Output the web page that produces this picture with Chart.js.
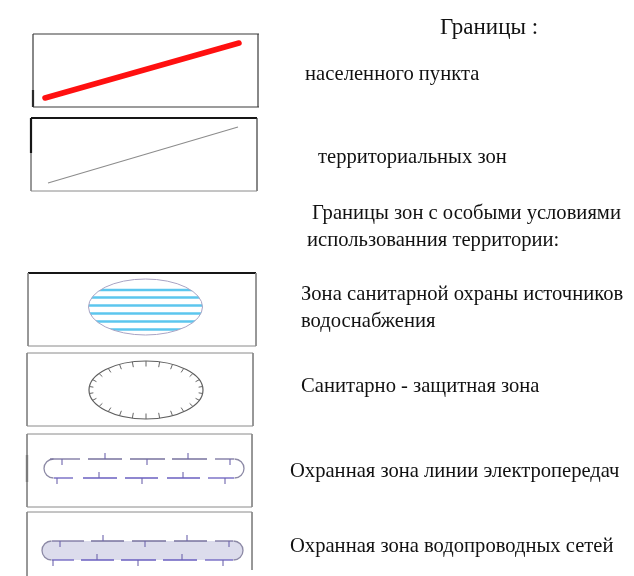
<!DOCTYPE html>
<html>
<head>
<meta charset="utf-8">
<script src="https://cdn.jsdelivr.net/npm/chart.js@4.4.1/dist/chart.umd.min.js"></script>
<style>
html,body{margin:0;padding:0;background:#fff;}
#wrap{width:634px;height:576px;}
</style>
</head>
<body>
<div id="wrap"><canvas id="c" width="634" height="576"></canvas></div>
<script>
// ---- legend content (coordinates in chart units) ----
const titleText = ['Границы :'];
const labelTexts = [
  'населенного пункта',
  'территориальных зон',
  'Границы зон с особыми условиями',
  'использованния территории:',
  'Зона санитарной охраны источников',
  'водоснабжения',
  'Санитарно - защитная зона',
  'Охранная зона линии электропередач',
  'Охранная зона водопроводных сетей'
];
const labelX = [305, 318, 312, 307, 301, 301, 301, 290, 290];
const labelY = [80, 163, 219, 246, 300, 327, 392, 477, 552];
const titleX = [440];
const titleY = [34];

// settlement boundary (red) and territorial zone boundary (grey)
const settlementLine = [[45, 98], [239, 43]];
const zoneLine = [[48, 183], [238, 127]];

// frame edges: [x1, y1, x2, y2]
const frameDark = [
  [33, 34, 259, 34], [33, 107, 259, 107], [258, 34, 258, 107], [33, 34, 33, 107],
  [257, 118, 257, 191]
];
const frameThick = [
  [33, 90, 33, 107], [31, 118, 257, 118], [31, 118, 31, 153], [28, 273, 256, 273],
  [27, 455, 27, 482]
];
const frameGrey = [
  [31, 153, 31, 191], [31, 191, 257, 191],
  [28, 273, 28, 346], [256, 273, 256, 346], [28, 346, 256, 346],
  [27, 353, 253, 353], [27, 353, 27, 426], [253, 353, 253, 426], [27, 426, 253, 426],
  [27, 434, 252, 434], [27, 434, 27, 507], [252, 434, 252, 507], [27, 507, 252, 507],
  [27, 512, 252, 512], [27, 512, 27, 576], [252, 512, 252, 570]
];

// water source sanitary zone: ellipse [cx, cy, rx, ry] + stripe rows
const waterEllipse = [145.5, 307, 57, 28];
const waterStripes = [290, 297.5, 305.5, 313.5, 321.5, 329.5];
// sanitary protection zone ellipse
const sanitaryEllipse = [146, 390, 57, 29];
const sanitaryTicks = 26;
// power line zone: stadium [x1, x2, yTop, yBottom] + dash runs + ticks
const powerZone = [44, 244, 459, 478];
const powerTopDashes = [[50, 80], [88, 122], [130, 165], [172, 207], [215, 234]];
const powerBotDashes = [[54, 73], [83, 117], [125, 158], [167, 200], [208, 234]];
const powerTopDown = [62, 147, 230], powerTopUp = [105, 188];
const powerBotDown = [57, 142, 225], powerBotUp = [99, 183];
// water pipe zone
const pipeZone = [42, 243, 541, 560];
const pipeTopDashes = [[52, 84], [91, 124], [132, 166], [174, 207], [215, 233]];
const pipeBotDashes = [[52, 74], [81, 114], [121, 156], [163, 197], [205, 233]];
const pipeTopDown = [60, 145, 229], pipeTopUp = [103, 187];
const pipeBotDown = [53, 138, 223], pipeBotUp = [97, 182];

function segData(segs) {
  const out = [];
  segs.forEach(s => { out.push({x: s[0], y: s[1]}, {x: s[2], y: s[3]}, {x: s[2], y: null}); });
  return out;
}
function lineData(pts) { return pts.map(p => ({x: p[0], y: p[1]})); }

const symbolsPlugin = {
  id: 'symbols',
  afterDatasetsDraw(chart) {
    const ctx = chart.ctx, X = chart.scales.x, Y = chart.scales.y;
    const px = v => X.getPixelForValue(v), py = v => Y.getPixelForValue(v);
    const sx = v => Math.abs(X.getPixelForValue(v) - X.getPixelForValue(0));
    const sy = v => Math.abs(Y.getPixelForValue(v) - Y.getPixelForValue(0));
    ctx.save();

    // striped ellipse
    {
      const [cx, cy, rx, ry] = waterEllipse;
      ctx.save();
      ctx.beginPath();
      ctx.ellipse(px(cx), py(cy), sx(rx), sy(ry), 0, 0, Math.PI * 2);
      ctx.clip();
      ctx.strokeStyle = '#5cc6ee';
      ctx.lineWidth = 2.6;
      waterStripes.forEach(v => {
        ctx.beginPath();
        ctx.moveTo(px(cx - rx - 2), py(v));
        ctx.lineTo(px(cx + rx + 2), py(v));
        ctx.stroke();
      });
      ctx.restore();
      ctx.beginPath();
      ctx.ellipse(px(cx), py(cy), sx(rx), sy(ry), 0, 0, Math.PI * 2);
      ctx.strokeStyle = '#a9a4c4';
      ctx.lineWidth = 1;
      ctx.stroke();
    }

    // hatched ellipse
    {
      const [cx, cy, rx, ry] = sanitaryEllipse;
      ctx.beginPath();
      ctx.ellipse(px(cx), py(cy), sx(rx), sy(ry), 0, 0, Math.PI * 2);
      ctx.strokeStyle = '#5e5e5e';
      ctx.lineWidth = 1.2;
      ctx.stroke();
      ctx.strokeStyle = '#666';
      ctx.lineWidth = 1;
      for (let i = 0; i < sanitaryTicks; i++) {
        const a = (i + 0.5) / sanitaryTicks * Math.PI * 2;
        const ex = px(cx) + sx(rx) * Math.cos(a), ey = py(cy) + sy(ry) * Math.sin(a);
        ctx.beginPath();
        ctx.moveTo(ex, ey);
        ctx.lineTo(ex - 5 * Math.cos(a) * 0.8, ey - 5.5 * Math.sin(a));
        ctx.stroke();
      }
    }

    function stadium(z, fill, topDashes, botDashes, topDown, topUp, botDown, botUp) {
      const [x1, x2, yt, yb] = z;
      const r = (py(yb) - py(yt)) / 2;
      const L = px(x1) + r, R = px(x2) - r, T = py(yt), B = py(yb);
      if (fill) {
        ctx.beginPath();
        ctx.moveTo(L, T);
        ctx.lineTo(R, T);
        ctx.arc(R, T + r, r, -Math.PI / 2, Math.PI / 2);
        ctx.lineTo(L, B);
        ctx.arc(L, T + r, r, Math.PI / 2, Math.PI * 1.5);
        ctx.closePath();
        ctx.fillStyle = fill;
        ctx.fill();
      }
      ctx.lineWidth = 1.3;
      // end arcs
      ctx.strokeStyle = '#8d8aa6';
      ctx.beginPath(); ctx.arc(L, T + r, r, Math.PI / 2, Math.PI * 1.5); ctx.stroke();
      ctx.beginPath(); ctx.arc(R, T + r, r, -Math.PI / 2, Math.PI / 2); ctx.stroke();
      // dashes
      ctx.strokeStyle = '#77729e';
      topDashes.forEach(d => { ctx.beginPath(); ctx.moveTo(px(d[0]), T); ctx.lineTo(px(d[1]), T); ctx.stroke(); });
      ctx.strokeStyle = '#6a5fc0';
      botDashes.forEach(d => { ctx.beginPath(); ctx.moveTo(px(d[0]), B); ctx.lineTo(px(d[1]), B); ctx.stroke(); });
      ctx.strokeStyle = '#6d64ad';
      ctx.lineWidth = 1.1;
      const tick = (x, y, d) => { ctx.beginPath(); ctx.moveTo(px(x), y); ctx.lineTo(px(x), y + d); ctx.stroke(); };
      topDown.forEach(x => tick(x, T, 6));
      topUp.forEach(x => tick(x, T, -6));
      botDown.forEach(x => tick(x, B, 6));
      botUp.forEach(x => tick(x, B, -6));
    }
    stadium(powerZone, null, powerTopDashes, powerBotDashes, powerTopDown, powerTopUp, powerBotDown, powerBotUp);
    stadium(pipeZone, '#dcdcec', pipeTopDashes, pipeBotDashes, pipeTopDown, pipeTopUp, pipeBotDown, pipeBotUp);

    // texts
    ctx.fillStyle = '#111';
    ctx.textBaseline = 'alphabetic';
    ctx.textAlign = 'left';
    ctx.font = '23px "Liberation Serif", "Times New Roman", serif';
    titleText.forEach((t, i) => ctx.fillText(t, px(titleX[i]), py(titleY[i])));
    ctx.font = '20.6px "Liberation Serif", "Times New Roman", serif';
    labelTexts.forEach((t, i) => ctx.fillText(t, px(labelX[i]), py(labelY[i])));
    ctx.restore();
  }
};

new Chart(document.getElementById('c'), {
  type: 'scatter',
  data: {
    datasets: [
      {data: segData(frameGrey), showLine: true, spanGaps: false, borderColor: '#8a8a8a', borderWidth: 1, pointRadius: 0},
      {data: segData(frameDark), showLine: true, spanGaps: false, borderColor: '#3a3a3a', borderWidth: 1.2, pointRadius: 0},
      {data: segData(frameThick), showLine: true, spanGaps: false, borderColor: '#161616', borderWidth: 2.2, pointRadius: 0},
      {data: lineData(settlementLine), showLine: true, borderColor: '#ff1010', borderWidth: 5.5, borderCapStyle: 'round', pointRadius: 0},
      {data: lineData(zoneLine), showLine: true, borderColor: '#8c8c8c', borderWidth: 1.1, pointRadius: 0}
    ]
  },
  options: {
    responsive: false,
    animation: false,
    layout: {padding: 0},
    plugins: {legend: {display: false}, tooltip: {enabled: false}},
    scales: {
      x: {type: 'linear', min: 0, max: 634, display: false},
      y: {type: 'linear', min: 0, max: 576, reverse: true, display: false}
    }
  },
  plugins: [symbolsPlugin]
});
</script>
</body>
</html>
